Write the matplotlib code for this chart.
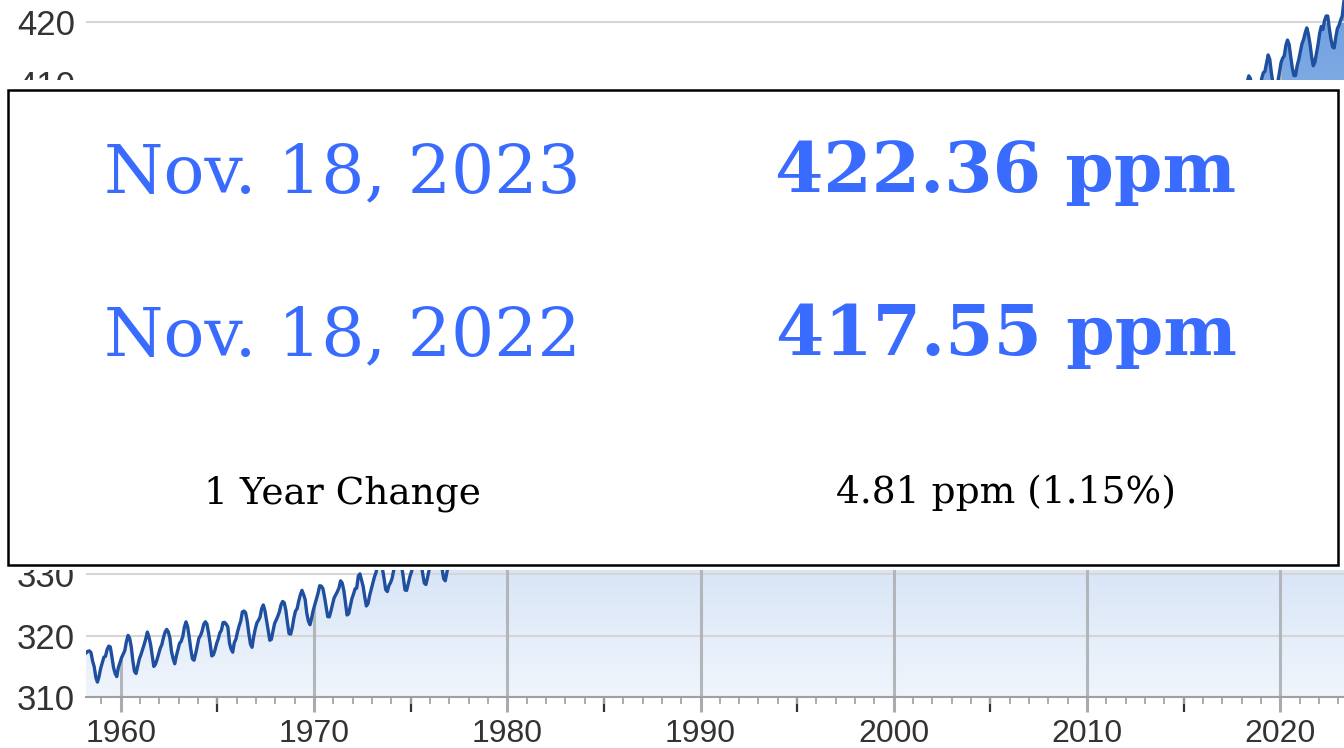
import matplotlib
matplotlib.use("Agg")
import matplotlib.pyplot as plt
import numpy as np
from matplotlib.colors import LinearSegmentedColormap
from matplotlib.patches import Rectangle
from matplotlib.ticker import MultipleLocator

# Mauna Loa monthly means (ppm), read off the chart / record
# 1958-03 .. 1977-12, monthly
co2_early = [
    317.20, 317.45, 317.51, 317.24, 315.86, 314.93, 313.20, 312.43, 313.33, 314.67,
    315.58, 316.48, 316.65, 317.72, 318.29, 318.15, 316.54, 314.80, 313.84, 313.33, 314.81, 315.58,
    316.43, 316.98, 317.58, 319.03, 320.04, 319.59, 318.18, 315.90, 314.17, 313.83, 315.00, 316.19,
    316.89, 317.70, 318.54, 319.48, 320.58, 319.77, 318.57, 316.79, 314.99, 315.31, 316.10, 317.01,
    317.94, 318.55, 319.68, 320.57, 321.02, 320.62, 319.61, 317.40, 316.25, 315.42, 316.69, 317.70,
    318.74, 319.07, 319.86, 321.38, 322.25, 321.48, 319.74, 317.77, 316.21, 315.99, 317.07, 318.35,
    319.57, 320.01, 320.74, 321.84, 322.26, 321.89, 320.44, 318.69, 316.70, 316.87, 317.68, 318.71,
    319.44, 320.44, 320.89, 322.13, 322.16, 321.87, 321.39, 318.80, 317.81, 317.30, 318.87, 319.42,
    320.62, 321.59, 322.39, 323.87, 324.01, 323.75, 322.39, 320.37, 318.64, 318.10, 319.79, 321.08,
    322.07, 322.50, 323.04, 324.42, 325.00, 324.09, 322.54, 320.92, 319.25, 319.39, 320.73, 321.96,
    322.57, 323.15, 323.89, 325.02, 325.57, 325.36, 324.14, 322.11, 320.33, 320.25, 321.32, 322.89,
    324.00, 324.41, 325.63, 326.66, 327.38, 326.71, 325.88, 323.66, 322.38, 321.78, 322.85, 324.12,
    325.06, 325.98, 326.93, 328.13, 328.08, 327.67, 326.34, 324.69, 323.10, 323.06, 324.01, 325.13,
    326.17, 326.68, 327.17, 327.79, 328.93, 328.57, 327.36, 325.43, 323.36, 323.56, 324.80, 326.01,
    326.77, 327.63, 327.75, 329.72, 330.07, 329.09, 328.04, 326.32, 324.84, 325.20, 326.50, 327.55,
    328.55, 329.56, 330.30, 331.50, 332.48, 332.07, 330.87, 329.31, 327.51, 327.18, 328.16, 328.64,
    329.35, 330.71, 331.48, 332.65, 333.09, 332.25, 331.18, 329.40, 327.44, 327.37, 328.46, 329.58,
    330.40, 331.41, 332.04, 333.31, 333.97, 333.60, 331.90, 330.06, 328.56, 328.34, 329.49, 330.76,
    331.75, 332.56, 333.50, 334.58, 334.87, 334.34, 333.05, 330.94, 329.30, 328.94, 330.31, 331.68,
    332.93, 333.42, 334.70, 336.07, 336.75, 336.27, 334.92, 332.75, 331.59, 331.16, 332.40, 333.85,
]

# 1978 .. 2017, annual means (this stretch sits behind the info panel)
co2_mid = [
    335.41, 336.84, 338.76, 340.12, 341.48, 343.15, 344.87, 346.35, 347.61, 349.31,
    351.69, 353.20, 354.45, 355.70, 356.54, 357.21, 358.96, 360.97, 362.74, 363.88,
    366.84, 368.54, 369.71, 371.32, 373.45, 375.98, 377.70, 379.98, 382.09, 384.02,
    385.83, 387.64, 390.10, 391.85, 394.06, 396.74, 398.81, 401.01, 404.41, 406.76,
]

# 2018-01 .. 2023-11, monthly
co2_recent = [
    407.96, 408.32, 409.41, 410.24, 411.24, 410.79, 408.71, 406.99, 405.51, 405.95, 408.02, 409.07,
    410.83, 411.75, 411.97, 413.33, 414.64, 413.93, 411.74, 409.95, 408.54, 408.53, 410.27, 411.76,
    413.39, 414.11, 414.51, 416.21, 417.07, 416.38, 414.38, 412.55, 411.29, 411.28, 412.89, 413.89,
    415.15, 416.47, 417.16, 418.24, 419.05, 418.01, 416.41, 414.38, 412.88, 413.45, 414.86, 416.36,
    418.19, 419.28, 418.81, 420.23, 420.99, 420.99, 418.90, 417.19, 415.95, 415.78, 417.51, 418.95,
    419.47, 420.31, 420.99, 423.36, 424.00, 423.68, 421.83, 419.68, 418.51, 418.82, 420.46,
]

date_now = "Nov. 18, 2023"
ppm_now = "422.36 ppm"
date_prev = "Nov. 18, 2022"
ppm_prev = "417.55 ppm"
change_label = "1 Year Change"
change_value = "4.81 ppm (1.15%)"

# time stamps (mid-month / mid-year)
t_early = 1958 + (np.arange(len(co2_early)) + 2.5) / 12
t_mid = 1978.5 + np.arange(len(co2_mid))
t_recent = 2018 + (np.arange(len(co2_recent)) + 0.5) / 12
t = np.concatenate([t_early, t_mid, t_recent])
ppm = np.concatenate([co2_early, co2_mid, co2_recent])

W, H = 1344, 748
fig = plt.figure(figsize=(W / 100, H / 100), dpi=100)
ax = fig.add_axes([86 / W, 51 / H, 1 - 86 / W, 1 - 51 / H])

x0, x1 = 1958.2, 2023.3
y0, y1 = 310, 423.6
ax.set_xlim(x0, x1)
ax.set_ylim(y0, y1)

# gradient area under the curve
fill = ax.fill_between(t, ppm, y0, facecolor="none", edgecolor="none")
cmap = LinearSegmentedColormap.from_list("co2", ["#f0f5fc", "#6fa0e0"])
grad = np.linspace(0, 1, 256).reshape(-1, 1)
im = ax.imshow(grad, cmap=cmap, aspect="auto", origin="lower",
               extent=[x0, x1, y0, y1], zorder=1)
clip = fill.get_paths()[0]
im.set_clip_path(clip, transform=ax.transData)

# horizontal grid everywhere, vertical grid only inside the area
for yv in range(310, 421, 10):
    ax.axhline(yv, color="#d6d6d6", lw=1.5, zorder=2)
for xv in range(1960, 2021, 10):
    vl = ax.axvline(xv, color="#b2b6bb", lw=2.2, zorder=2)
    vl.set_clip_path(clip, transform=ax.transData)

ax.plot(t, ppm, color="#1f4f9f", lw=2.4, zorder=3, solid_joinstyle="round")

for s in ["top", "right", "left"]:
    ax.spines[s].set_visible(False)
ax.spines["bottom"].set_color("#a0a0a0")
ax.spines["bottom"].set_linewidth(1.5)

ax.set_yticks(range(310, 421, 10))
ax.set_xticks(range(1960, 2021, 10))
ax.xaxis.set_minor_locator(MultipleLocator(1))
ax.tick_params(axis="y", length=0, pad=8, labelsize=25, labelcolor="#333333")
ax.tick_params(axis="x", which="major", direction="out", length=11, width=2.2,
               color="#a8acb0", pad=5, labelsize=23, labelcolor="#333333")
ax.tick_params(axis="x", which="minor", direction="out", length=5, width=1.3,
               color="#a6a6a6")
for lab in ax.get_xticklabels() + ax.get_yticklabels():
    lab.set_fontfamily("Liberation Sans")

# darker five-year ticks
sec = ax.secondary_xaxis(0)
sec.set_xticks(range(1965, 2021, 10))
sec.tick_params(direction="out", length=11, width=1.6, color="#333333",
                labelbottom=False)
sec.spines["bottom"].set_visible(False)

# info panel over the chart: white backing, then the framed box
fig.add_artist(Rectangle((0, 1 - 570 / H), 1, 490 / H,
                         transform=fig.transFigure, facecolor="white",
                         edgecolor="none", zorder=9))
fig.add_artist(Rectangle((8 / W, 1 - 565 / H), 1330 / W, 475 / H,
                         transform=fig.transFigure, facecolor="white",
                         edgecolor="black", lw=1.8, zorder=10))

blue = "#3a6bff"
lx, rx = 342 / W, 1006 / W
serif = "DejaVu Serif"
fig.text(lx, 1 - 192 / H, date_now, ha="center", va="baseline", fontsize=49,
         color=blue, family=serif, zorder=11)
fig.text(rx, 1 - 192 / H, ppm_now, ha="center", va="baseline", fontsize=50,
         color=blue, family=serif, weight="bold", zorder=11)
fig.text(lx, 1 - 355 / H, date_prev, ha="center", va="baseline", fontsize=49,
         color=blue, family=serif, zorder=11)
fig.text(rx, 1 - 355 / H, ppm_prev, ha="center", va="baseline", fontsize=50,
         color=blue, family=serif, weight="bold", zorder=11)
fig.text(lx, 1 - 503 / H, change_label, ha="center", va="baseline", fontsize=27,
         color="black", family=serif, zorder=11)
fig.text(rx, 1 - 503 / H, change_value, ha="center", va="baseline", fontsize=27,
         color="black", family=serif, zorder=11)

fig.savefig("out.png", dpi=100)
